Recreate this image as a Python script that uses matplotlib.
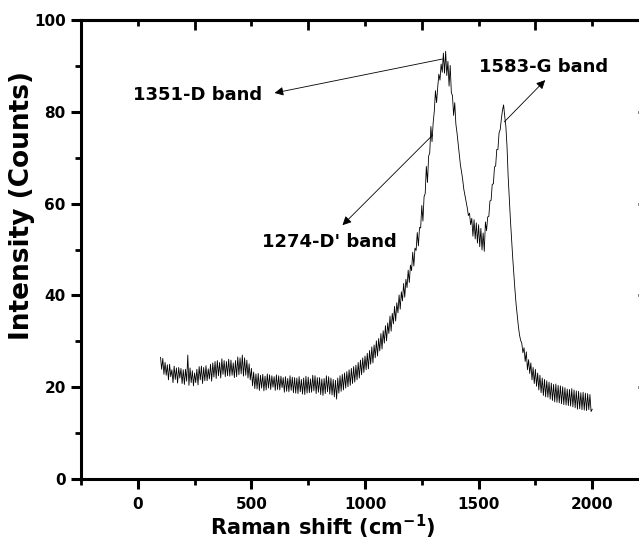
import numpy as np
import matplotlib
matplotlib.use("Agg")
import matplotlib.pyplot as plt
from matplotlib.ticker import MultipleLocator

# Raman spectrum, every 5 cm-1 (one row = 100 cm-1)
raman_shift = np.arange(100, 2001, 5)
intensity = [
    26.5, 23.9, 26.3, 22.8, 25.4, 22.6, 24.9, 21.6, 25.0, 22.3, 23.8, 21.0, 24.6, 21.7, 24.2, 20.9, 24.3, 22.0, 24.1, 20.8,  # 100
    23.8, 20.6, 23.9, 21.3, 27.0, 20.4, 24.2, 21.0, 23.6, 20.3, 23.1, 21.0, 23.9, 20.5, 24.5, 21.6, 24.6, 20.8, 24.3, 21.4,  # 200
    24.7, 21.4, 24.0, 21.8, 25.0, 21.3, 25.3, 22.2, 25.6, 21.9, 25.8, 22.5, 25.4, 22.0, 26.2, 22.8, 25.8, 22.3, 25.6, 22.5,  # 300
    26.1, 22.4, 25.9, 22.6, 25.3, 22.1, 25.8, 22.3, 26.6, 22.7, 26.4, 22.9, 27.0, 22.4, 26.4, 22.6, 25.9, 22.0, 25.1, 21.6,  # 400
    24.1, 20.3, 23.3, 19.7, 22.9, 19.6, 23.0, 19.3, 22.6, 19.8, 22.8, 19.2, 22.4, 19.4, 22.9, 19.8, 22.7, 19.5, 22.5, 20.0,  # 500
    22.3, 19.3, 22.7, 19.5, 22.5, 19.4, 22.4, 19.9, 22.1, 18.9, 22.3, 19.1, 21.9, 19.0, 22.5, 19.3, 22.2, 18.8, 22.1, 18.7,  # 600
    22.0, 18.6, 22.3, 19.0, 21.7, 18.5, 22.0, 18.4, 22.4, 18.7, 22.2, 18.8, 21.8, 18.9, 22.6, 19.2, 22.5, 18.6, 22.1, 18.9,  # 700
    22.1, 18.4, 21.8, 18.2, 21.9, 18.6, 22.5, 19.0, 22.3, 18.5, 22.0, 18.3, 21.7, 17.9, 21.5, 17.4, 22.0, 18.7, 22.5, 19.1,  # 800
    22.8, 19.4, 23.1, 19.8, 23.4, 20.1, 23.8, 20.4, 24.1, 20.8, 24.5, 21.1, 24.8, 21.6, 25.4, 22.0, 25.9, 22.7, 26.4, 23.2,  # 900
    26.8, 23.8, 27.4, 24.0, 28.0, 25.0, 28.8, 25.3, 29.2, 26.4, 30.1, 26.8, 30.6, 27.9, 31.7, 28.3, 32.3, 29.6, 33.4, 30.1,  # 1000
    34.0, 31.7, 35.5, 32.2, 36.1, 33.8, 37.6, 34.4, 38.4, 36.2, 40.1, 37.0, 40.8, 38.8, 42.6, 39.6, 43.5, 41.7, 45.5, 42.8,  # 1100
    46.6, 45.4, 49.4, 46.4, 50.3, 49.8, 53.7, 50.8, 54.8, 54.7, 59.6, 56.2, 61.5, 62.2, 68.1, 64.6, 70.3, 71.1, 76.8, 73.5,  # 1200
    77.6, 80.1, 84.6, 82.0, 85.3, 88.2, 86.9, 90.4, 88.6, 92.8, 88.4, 93.2, 87.9, 91.0, 85.6, 90.1, 84.2, 83.5, 79.2, 82.0,  # 1300
    77.3, 75.4, 73.0, 70.5, 68.4, 66.9, 65.2, 63.1, 61.8, 60.6, 59.1, 57.4, 57.9, 55.4, 56.8, 52.9, 56.5, 52.3, 55.8, 51.4,  # 1400
    55.4, 50.6, 54.6, 49.9, 53.6, 49.6, 56.0, 54.1, 57.1, 57.2, 60.6, 60.7, 64.2, 64.3, 68.0, 68.2, 71.8, 71.8, 75.4, 76.1,  # 1500
    78.4, 80.3, 81.5, 79.0, 76.8, 72.5, 66.0, 61.2, 56.5, 52.3, 48.3, 44.6, 41.2, 38.1, 35.6, 33.3, 31.4, 30.2, 29.6, 27.5,  # 1600
    28.6, 25.6, 27.7, 23.8, 26.0, 23.0, 25.3, 21.6, 24.3, 20.8, 23.9, 20.2, 23.1, 19.4, 22.6, 18.8, 22.0, 18.2, 21.7, 17.9,  # 1700
    21.4, 17.8, 21.1, 17.4, 20.9, 17.1, 20.6, 16.8, 20.7, 16.7, 20.4, 16.6, 20.3, 16.4, 20.1, 16.2, 19.9, 16.1, 19.6, 16.0,  # 1800
    19.5, 15.9, 19.7, 15.7, 19.4, 15.5, 19.2, 15.2, 19.1, 15.3, 18.8, 15.1, 18.9, 15.0, 18.7, 14.9, 18.6, 15.1, 18.4, 14.7,  # 1900
    15.2,                                                                                                                  # 2000
]

# band labels: text, text position, arrow tail (on curve), arrow head
band_labels = ["1351-D band", "1274-D' band", "1583-G band"]
label_pos = [(264, 83.7), (844, 51.6), (1787, 89.8)]
arrow_tail = [(1341, 91.5), (1297, 74.9), (1613, 77.8)]
arrow_head = [(602, 84.1), (901, 55.3), (1793, 86.9)]

plt.rcParams['font.family'] = ['DejaVu Sans']
plt.rcParams['font.weight'] = 'bold'
plt.rcParams['mathtext.default'] = 'bf'

fig = plt.figure(figsize=(6.39, 5.44), dpi=100)
ax = fig.add_axes([81 / 639, 1 - 479 / 544, 568 / 639, 459 / 544])

ax.plot(raman_shift, intensity, color='black', lw=0.6)

for txt, pos, tail, head in zip(band_labels, label_pos, arrow_tail, arrow_head):
    ax.annotate('', xy=head, xytext=tail,
                arrowprops=dict(arrowstyle='-|>', color='black', lw=0.6,
                                mutation_scale=13, shrinkA=0, shrinkB=0))
    ax.text(pos[0], pos[1], txt, ha='center', va='center',
            fontsize=13, fontweight='bold')

ax.set_xlim(-250, 2250)
ax.set_ylim(0, 100)
ax.set_xticks([0, 500, 1000, 1500, 2000])
ax.xaxis.set_minor_locator(MultipleLocator(250))
ax.yaxis.set_major_locator(MultipleLocator(20))
ax.yaxis.set_minor_locator(MultipleLocator(10))

for s in ax.spines.values():
    s.set_linewidth(2.2)
ax.tick_params(which='major', direction='out', length=7, width=2.2,
               labelsize=11, pad=4)
ax.tick_params(which='minor', direction='out', length=4, width=2.0)
ax.tick_params(axis='x', which='major', pad=6)

top = ax.secondary_xaxis('top')
top.xaxis.set_major_locator(MultipleLocator(500))
top.xaxis.set_minor_locator(MultipleLocator(250))
top.tick_params(which='major', direction='in', length=4, width=2.0, labeltop=False)
top.tick_params(which='minor', direction='in', length=7, width=2.0)
top.spines['top'].set_linewidth(2.2)

right = ax.secondary_yaxis('right')
right.yaxis.set_major_locator(MultipleLocator(20))
right.yaxis.set_minor_locator(MultipleLocator(10))
right.tick_params(which='major', direction='in', length=8, width=2.0, labelright=False)
right.tick_params(which='minor', direction='in', length=4, width=2.0)

fig.text(323 / 639, 1 - 527 / 544, r'Raman shift (cm$^{-1}$)',
         ha='center', va='center', fontsize=15, fontweight='bold')
fig.text(22 / 639, 1 - 205 / 544, 'Intensity (Counts)', rotation=90,
         ha='center', va='center', fontsize=19, fontweight='bold')

fig.savefig('out.png', dpi=100)
